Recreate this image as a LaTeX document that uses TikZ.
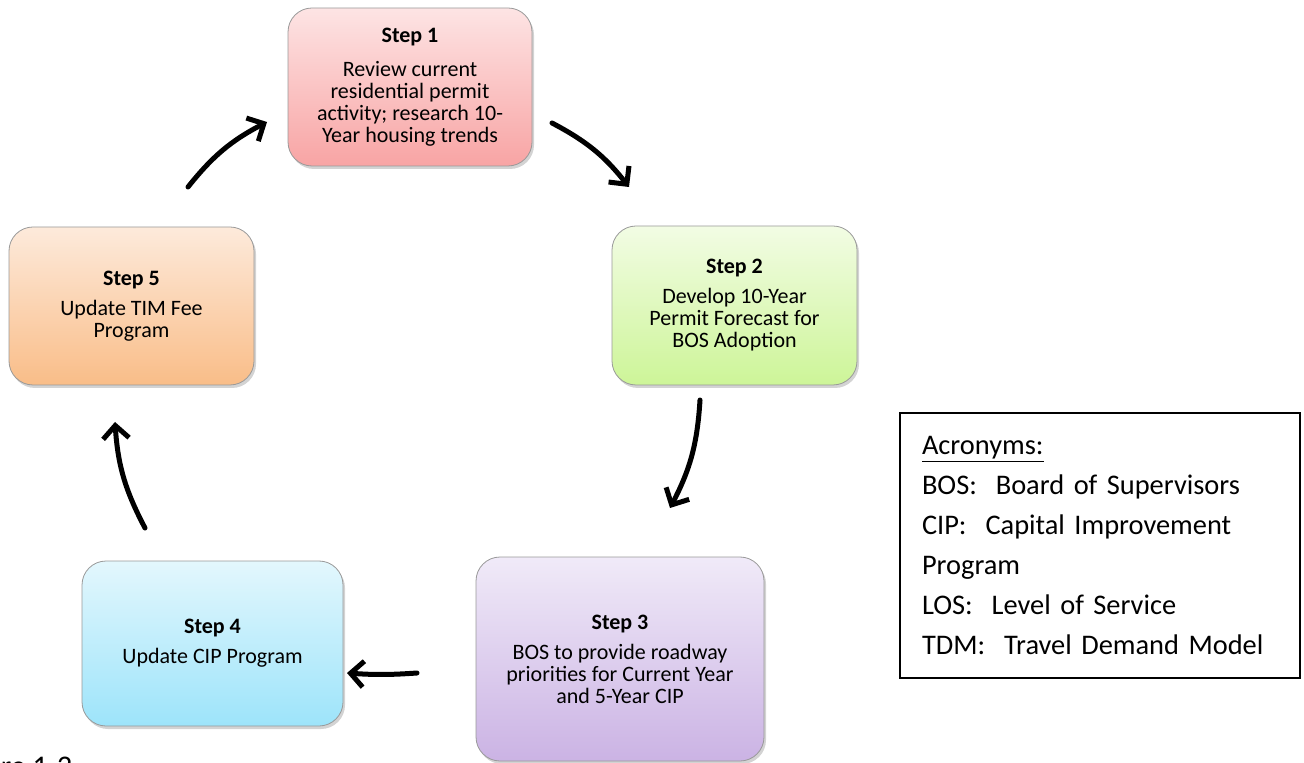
\documentclass[tikz,border=0pt]{standalone}
\usepackage{fontspec}
\setmainfont{Carlito}
\usetikzlibrary{arrows.meta,shadows}

\definecolor{redtop}{HTML}{FDE4E4}
\definecolor{redbot}{HTML}{F8A4A4}
\definecolor{greentop}{HTML}{F2FCE4}
\definecolor{greenbot}{HTML}{CDF598}
\definecolor{violettop}{HTML}{F0EAF8}
\definecolor{violetbot}{HTML}{CBB3E4}
\definecolor{cyantop}{HTML}{E3F7FD}
\definecolor{cyanbot}{HTML}{9DE4FA}
\definecolor{peachtop}{HTML}{FDEADB}
\definecolor{peachbot}{HTML}{F9BD88}

\tikzset{
  stepbox/.style={draw=black!40, rounded corners=12pt, align=center,
    inner sep=0pt, font=\fontsize{11}{11}\selectfont,
    drop shadow={shadow xshift=1pt, shadow yshift=-1.5pt, opacity=0.35}},
  cyclearrow/.style={line width=2.5pt, line cap=round,
    -{Straight Barb[length=6.5pt,width=13pt]}},
}

\begin{document}
\begin{tikzpicture}[x=0.5pt, y=-0.5pt]

% picture frame, pixel units, y downwards
\clip (0,0) rectangle (1304,763);
\useasboundingbox (0,0) rectangle (1304,763);

% ---- the five steps ----
\node[stepbox, top color=redtop, bottom color=redbot,
  minimum width=122pt, minimum height=79pt] (step1) at (410,87)
  {\textbf{Step 1}\\[6pt] Review current\\ residential permit\\ activity; research 10-\\ Year housing trends};
\node[stepbox, top color=greentop, bottom color=greenbot,
  minimum width=122.5pt, minimum height=79.5pt] (step2) at (734.5,305.5)
  {\textbf{Step 2}\\[4pt] Develop 10-Year\\ Permit Forecast for\\ BOS Adoption};
\node[stepbox, top color=violettop, bottom color=violetbot,
  minimum width=144pt, minimum height=102pt] (step3) at (620,659)
  {\textbf{Step 3}\\[4pt] BOS to provide roadway\\ priorities for Current Year\\ and 5-Year CIP};
\node[stepbox, top color=cyantop, bottom color=cyanbot,
  minimum width=130.5pt, minimum height=82.5pt] (step4) at (212.5,643.5)
  {\textbf{Step 4}\\[4pt] Update CIP Program};
\node[stepbox, top color=peachtop, bottom color=peachbot,
  minimum width=122.5pt, minimum height=79pt] (step5) at (131.5,306)
  {\textbf{Step 5}\\[4pt] Update TIM Fee\\ Program};

% ---- arrows between the steps ----
\coordinate (a1s) at (188,187);
\coordinate (a1e) at (267,122);
\coordinate (a2s) at (552,123);
\coordinate (a2e) at (629,187);
\coordinate (a3s) at (700,400);
\coordinate (a3e) at (670,508);
\coordinate (a4s) at (417,673);
\coordinate (a4e) at (347,673);
\coordinate (a5s) at (145,528);
\coordinate (a5e) at (115,422);

\draw[cyclearrow] (a1s) to[bend left=12] (a1e);
\draw[cyclearrow] (a2s) to[bend left=12] (a2e);
\draw[cyclearrow] (a3s) to[bend left=12] (a3e);
\draw[cyclearrow] (a4s) to[bend left=4] (a4e);
\draw[cyclearrow] (a5s) to[bend left=12] (a5e);

% ---- acronyms ----
\node[draw, line width=1pt, anchor=north west, minimum width=200pt,
  minimum height=132.5pt, text width=178pt, inner xsep=11pt, align=left,
  font=\fontsize{14.2}{20}\selectfont] (acro) at (899,412)
  {\underline{Acronyms:}\\
   BOS:\ \ Board of Supervisors\\
   CIP:\ \ Capital Improvement\\
   Program\\
   LOS:\ \ Level of Service\\
   TDM:\ \ Travel Demand Model};

% caption, cut by the page edge
\node[anchor=base west, inner sep=0pt, font=\fontsize{15}{18}\selectfont]
  (figlabel) at (-50,776) {Figure 1-2};

\end{tikzpicture}
\end{document}
